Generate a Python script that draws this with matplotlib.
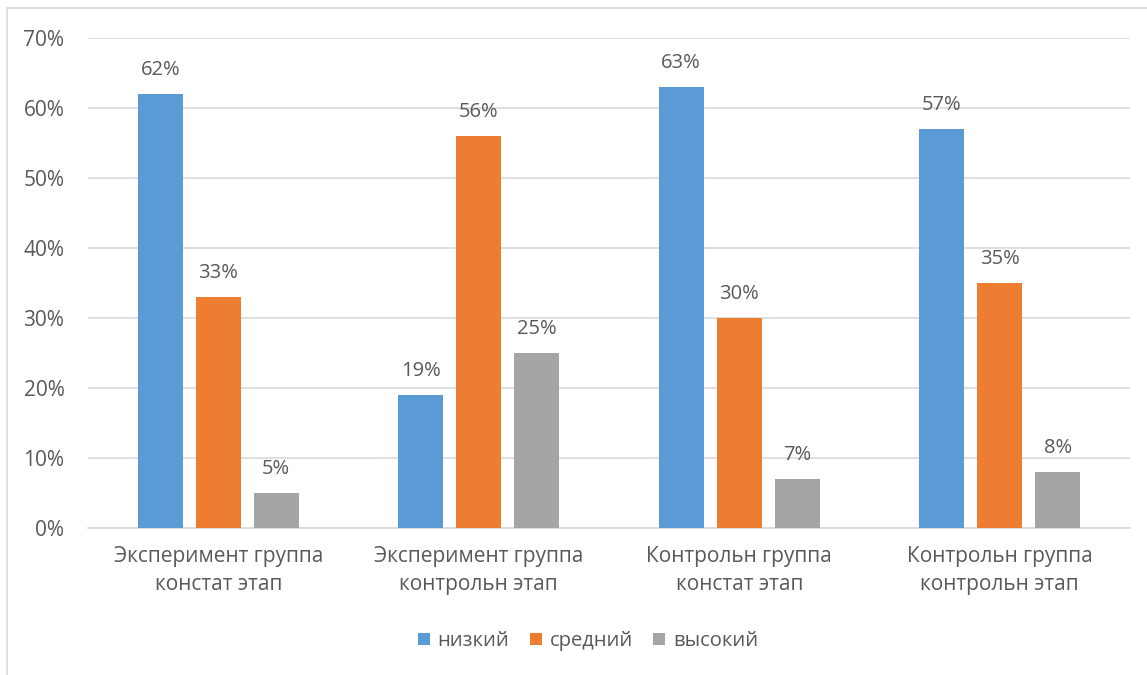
import numpy as np
import matplotlib.pyplot as plt
from matplotlib.patches import Rectangle

categories = ['Эксперимент группа\nконстат этап', 'Эксперимент группа\nконтрольн этап',
              'Контрольн группа\nконстат этап', 'Контрольн группа\nконтрольн этап']
series_names = ['низкий', 'средний', 'высокий']
low = [62, 19, 63, 57]
mid = [33, 56, 30, 35]
high = [5, 25, 7, 8]
colors = ['#5B9BD5', '#ED7D31', '#A5A5A5']

plt.rcParams['font.family'] = ['Open Sans', 'DejaVu Sans']
text_color = '#595959'

fig = plt.figure(figsize=(11.47, 6.75), dpi=100)
fig.patches.append(Rectangle((7 / 1147, -0.01), 1.02, 1 - 8 / 675 + 0.01, transform=fig.transFigure,
                             fill=False, edgecolor='#D9D9D9', linewidth=1.2))
ax = fig.add_axes([88 / 1147, 1 - 528 / 675, (1130 - 88) / 1147, (528 - 38) / 675])

x = np.arange(len(categories))
width = 45 / 260.5
step = 58 / 260.5
for i, (vals, name) in enumerate(zip([low, mid, high], series_names)):
    pos = x + (i - 1) * step
    bars = ax.bar(pos, vals, width, color=colors[i], label=name, zorder=3)
    for b, v in zip(bars, vals):
        ax.text(b.get_x() + b.get_width() / 2, v + 2.0, f'{v}%', ha='center', va='bottom',
                fontsize=14.5, color=text_color)

ax.set_xlim(-0.5, len(categories) - 0.5)
ax.set_ylim(0, 70)
ax.set_yticks(range(0, 71, 10))
ax.set_yticklabels([f'{t}%' for t in range(0, 71, 10)])
ax.set_xticks(x)
ax.set_xticklabels(categories, linespacing=1.45)
ax.tick_params(axis='both', length=0, labelsize=15, colors=text_color)
ax.tick_params(axis='y', pad=17)
ax.tick_params(axis='x', pad=13)
ax.grid(axis='y', color='#D9D9D9', linewidth=1.2, zorder=0)
for s in ['top', 'right', 'left']:
    ax.spines[s].set_visible(False)
ax.spines['bottom'].set_color('#D9D9D9')
ax.spines['bottom'].set_linewidth(1.2)

fig.legend(loc='center', bbox_to_anchor=(588 / 1147, 1 - 641 / 675), ncol=3, frameon=False,
           fontsize=14.5, handlelength=0.6, handleheight=0.6, handletextpad=0.4, columnspacing=1.0,
           labelcolor=text_color)

fig.savefig('out.png', dpi=100)
